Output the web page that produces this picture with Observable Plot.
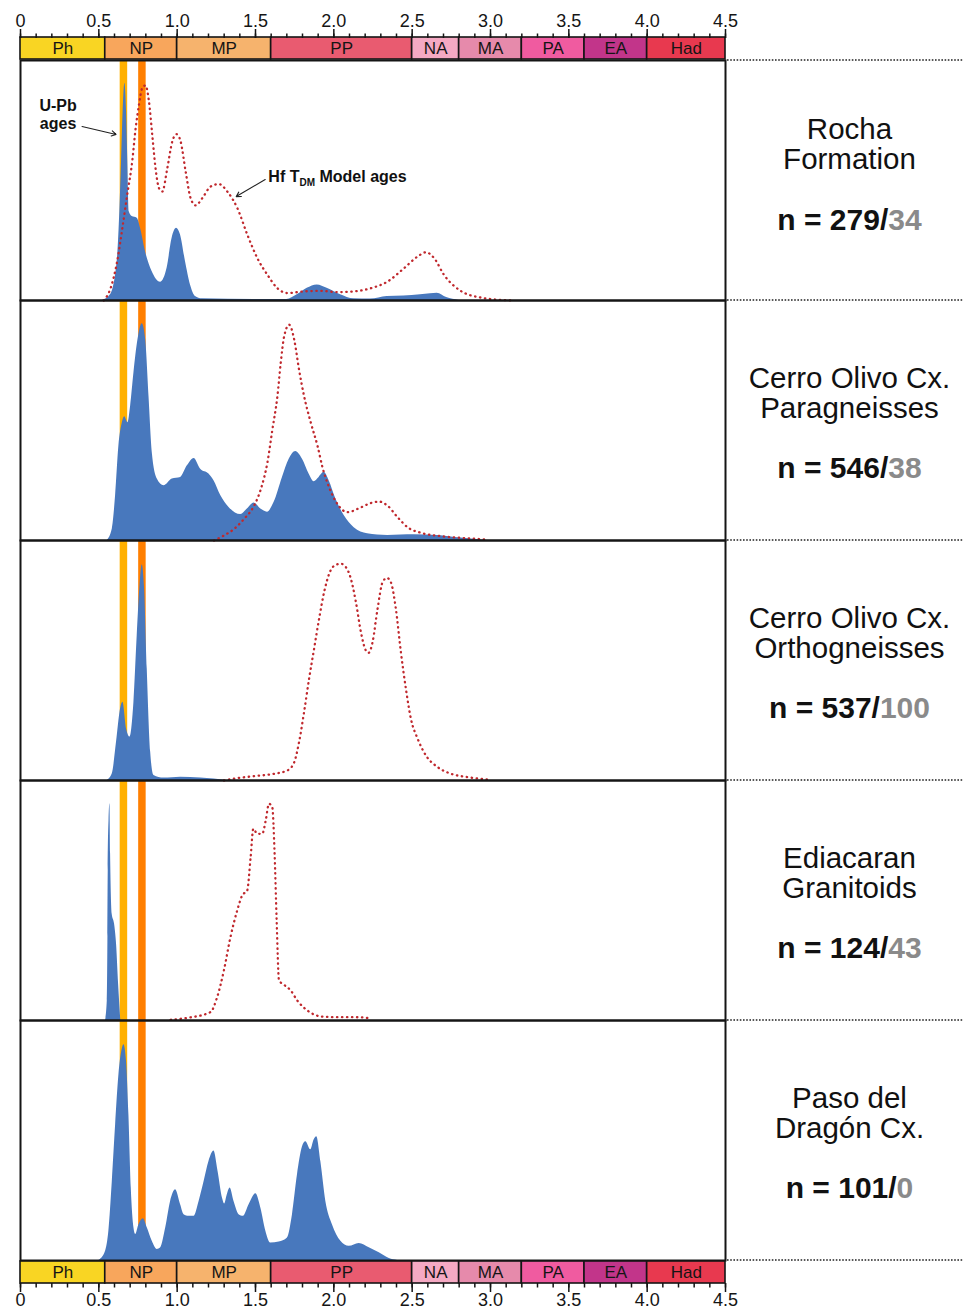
<!DOCTYPE html>
<html><head><meta charset="utf-8">
<script src="https://cdn.jsdelivr.net/npm/d3@7"></script>
<script src="https://cdn.jsdelivr.net/npm/@observablehq/plot@0.6"></script>
<style>
body{margin:0;background:#fff;}
#chart{width:963px;}
#chart svg{display:block;}
</style></head><body><div id="chart"></div>
<script>
// ---------------- DATA ----------------
const eraNames = ["Ph","NP","MP","PP","NA","MA","PA","EA","Had"];
const eraStart = [0, 0.541, 1.0, 1.6, 2.5, 2.8, 3.2, 3.6, 4.0];
const eraEnd   = [0.541, 1.0, 1.6, 2.5, 2.8, 3.2, 3.6, 4.0, 4.5];

const majorTicks = [0, 0.5, 1.0, 1.5, 2.0, 2.5, 3.0, 3.5, 4.0, 4.5];
const majorTickLabels = ["0","0.5","1.0","1.5","2.0","2.5","3.0","3.5","4.0","4.5"];
const minorTicks = [0,0.1,0.2,0.3,0.4,0.5,0.6,0.7,0.8,0.9,1.0,1.1,1.2,1.3,1.4,1.5,1.6,1.7,1.8,1.9,2.0,2.1,2.2,2.3,2.4,2.5,2.6,2.7,2.8,2.9,3.0,3.1,3.2,3.3,3.4,3.5,3.6,3.7,3.8,3.9,4.0,4.1,4.2,4.3,4.4,4.5];

// reference ages (Ga) shown as vertical bands
const markerAgeYellow = [0.657];
const markerAgeOrange = [0.775];

const samples = ["Rocha Formation", "Cerro Olivo Cx. Paragneisses", "Cerro Olivo Cx. Orthogneisses", "Ediacaran Granitoids", "Paso del Dragón Cx."];
const sampleLabelLines = ["Rocha\nFormation", "Cerro Olivo Cx.\nParagneisses", "Cerro Olivo Cx.\nOrthogneisses", "Ediacaran\nGranitoids", "Paso del\nDragón Cx."];
const nUPb = [279, 546, 537, 124, 101];
const nHf  = [34, 38, 100, 43, 0];

// [age (Ga), relative density]
const rochaUPb = [[0.521,0],[0.574,0.024],[0.617,0.163],[0.634,0.372],[0.645,0.579],[0.655,0.788],[0.666,0.905],[0.677,0.788],[0.685,0.579],[0.694,0.37],[0.713,0.35],[0.745,0.343],[0.766,0.301],[0.798,0.203],[0.840,0.121],[0.894,0.076],[0.936,0.135],[0.968,0.260],[0.996,0.301],[1.021,0.274],[1.053,0.163],[1.085,0.065],[1.117,0.017],[1.160,0.007],[1.49,0.004],[1.70,0.004],[1.766,0.024],[1.830,0.051],[1.894,0.065],[1.957,0.051],[2.043,0.024],[2.128,0.007],[2.234,0.006],[2.340,0.017],[2.447,0.019],[2.553,0.024],[2.617,0.028],[2.66,0.03],[2.72,0.012],[2.80,0]];
const rochaHf = [[0.532,0],[0.575,0.051],[0.617,0.163],[0.65,0.301],[0.681,0.440],[0.713,0.579],[0.735,0.718],[0.756,0.815],[0.777,0.885],[0.798,0.896],[0.820,0.829],[0.841,0.690],[0.862,0.551],[0.884,0.468],[0.905,0.454],[0.937,0.551],[0.969,0.663],[0.996,0.693],[1.022,0.663],[1.054,0.538],[1.086,0.426],[1.118,0.396],[1.160,0.426],[1.214,0.475],[1.267,0.485],[1.320,0.454],[1.384,0.385],[1.448,0.274],[1.512,0.176],[1.576,0.107],[1.640,0.051],[1.704,0.031],[1.810,0.038],[1.917,0.040],[2.023,0.035],[2.130,0.038],[2.236,0.051],[2.343,0.079],[2.449,0.135],[2.534,0.183],[2.588,0.201],[2.641,0.176],[2.70,0.11],[2.81,0.04],[2.94,0.012],[3.13,0]];

const paraUPb = [[0.554,0],[0.586,0.048],[0.607,0.187],[0.628,0.394],[0.650,0.491],[0.665,0.516],[0.686,0.491],[0.703,0.560],[0.724,0.698],[0.750,0.837],[0.777,0.903],[0.799,0.837],[0.820,0.602],[0.841,0.367],[0.873,0.256],[0.916,0.228],[0.969,0.256],[1.022,0.263],[1.065,0.311],[1.108,0.342],[1.150,0.297],[1.203,0.277],[1.235,0.249],[1.278,0.187],[1.331,0.138],[1.406,0.108],[1.448,0.131],[1.491,0.156],[1.534,0.131],[1.576,0.118],[1.619,0.159],[1.672,0.263],[1.715,0.339],[1.757,0.371],[1.800,0.339],[1.842,0.277],[1.874,0.245],[1.906,0.263],[1.938,0.284],[1.970,0.249],[2.013,0.173],[2.066,0.104],[2.130,0.053],[2.215,0.028],[2.343,0.021],[2.513,0.024],[2.662,0.021],[2.81,0.01],[2.98,0]];
const paraHf = [[1.235,0],[1.299,0.021],[1.363,0.048],[1.427,0.090],[1.491,0.145],[1.534,0.214],[1.576,0.325],[1.608,0.463],[1.640,0.602],[1.661,0.740],[1.683,0.851],[1.715,0.899],[1.747,0.837],[1.778,0.712],[1.810,0.602],[1.853,0.491],[1.896,0.394],[1.928,0.304],[1.970,0.221],[2.023,0.152],[2.087,0.118],[2.173,0.138],[2.236,0.156],[2.290,0.162],[2.343,0.145],[2.407,0.097],[2.471,0.055],[2.556,0.032],[2.684,0.018],[2.833,0.010],[2.982,0.004]];

const orthoUPb = [[0.554,0],[0.586,0.028],[0.613,0.160],[0.639,0.299],[0.654,0.326],[0.677,0.215],[0.699,0.181],[0.724,0.326],[0.745,0.604],[0.763,0.8125],[0.777,0.899],[0.792,0.799],[0.809,0.465],[0.831,0.118],[0.852,0.021],[0.916,0.010],[1.022,0.014],[1.150,0.010],[1.32,0]];
const orthoHf = [[1.299,0],[1.384,0.010],[1.491,0.018],[1.619,0.028],[1.704,0.042],[1.747,0.076],[1.778,0.160],[1.810,0.285],[1.842,0.424],[1.874,0.549],[1.906,0.674],[1.938,0.785],[1.970,0.861],[2.013,0.899],[2.045,0.903],[2.077,0.889],[2.109,0.840],[2.141,0.743],[2.173,0.618],[2.204,0.542],[2.222,0.532],[2.247,0.576],[2.279,0.715],[2.311,0.826],[2.339,0.844],[2.364,0.826],[2.396,0.715],[2.428,0.535],[2.460,0.382],[2.492,0.257],[2.535,0.174],[2.588,0.104],[2.662,0.056],[2.748,0.028],[2.854,0.014],[2.982,0.004]];

const ediaUPb = [[0.543,0],[0.554,0.083],[0.558,0.35],[0.560,0.625],[0.565,0.833],[0.571,0.903],[0.575,0.694],[0.585,0.444],[0.600,0.403],[0.613,0.319],[0.626,0.153],[0.640,0]];
const ediaHf = [[0.958,0.003],[1.064,0.011],[1.213,0.035],[1.255,0.097],[1.298,0.208],[1.340,0.347],[1.383,0.458],[1.415,0.521],[1.447,0.542],[1.469,0.681],[1.486,0.799],[1.511,0.778],[1.543,0.778],[1.565,0.833],[1.586,0.903],[1.607,0.889],[1.622,0.694],[1.635,0.417],[1.650,0.167],[1.682,0.149],[1.725,0.125],[1.767,0.083],[1.831,0.042],[1.916,0.017],[2.0,0.014],[2.1,0.014],[2.2,0.012],[2.24,0.005]];

const pasoUPb = [[0.500,0],[0.543,0.039],[0.564,0.122],[0.586,0.329],[0.607,0.564],[0.628,0.772],[0.650,0.882],[0.660,0.899],[0.677,0.827],[0.692,0.606],[0.707,0.302],[0.724,0.136],[0.735,0.108],[0.756,0.149],[0.784,0.174],[0.809,0.136],[0.841,0.080],[0.873,0.046],[0.895,0.053],[0.927,0.136],[0.958,0.246],[0.990,0.295],[1.022,0.232],[1.044,0.191],[1.076,0.184],[1.108,0.184],[1.140,0.246],[1.172,0.329],[1.203,0.412],[1.235,0.456],[1.261,0.371],[1.289,0.260],[1.303,0.235],[1.320,0.274],[1.338,0.302],[1.363,0.246],[1.395,0.191],[1.423,0.184],[1.459,0.232],[1.502,0.278],[1.534,0.219],[1.566,0.122],[1.597,0.073],[1.651,0.077],[1.704,0.094],[1.736,0.191],[1.768,0.357],[1.800,0.474],[1.821,0.495],[1.853,0.461],[1.874,0.502],[1.891,0.516],[1.917,0.412],[1.949,0.246],[1.991,0.149],[2.045,0.080],[2.098,0.059],[2.162,0.071],[2.226,0.053],[2.290,0.032],[2.354,0.008],[2.407,0]];
const pasoHf = [];

const upbCurves = [rochaUPb, paraUPb, orthoUPb, ediaUPb, pasoUPb];
const hfCurves  = [rochaHf, paraHf, orthoHf, ediaHf, pasoHf];

// annotations (age, relative density) in the Rocha panel
const noteUPb = {text: "U-Pb\nages", age: 0.24, density: 0.775};
const noteHf  = {text: "Hf T{DM} Model ages", age: 1.582, density: 0.517};
const arrowUPb = {x1: 0.393, y1: 0.725, x2: 0.610, y2: 0.692};
const arrowHf  = {x1: 1.562, y1: 0.504, x2: 1.377, y2: 0.433};

// ---------------- STYLE ----------------
const FONT = "'Liberation Sans', Arial, Helvetica, sans-serif";
const W = 963, ML = 20, MR = 238;
const eraColors = ["#f9d523","#f8a65c","#f6b36d","#e95b70","#f5a9c3","#e68aab","#f05ba0","#c2358a","#e8394f"];
const BLUE = "#4878bd", RED = "#c0282d";

// ---------------- TABLES ----------------
const eras = eraNames.map((name, i) => ({name, start: eraStart[i], end: eraEnd[i]}));
const upb = upbCurves.flatMap((c, i) => c.map(([age, density]) => ({sample: samples[i], age, density})));
const hf  = hfCurves.flatMap((c, i) => c.map(([age, density]) => ({sample: samples[i], age, density})));
const labels = samples.map((s, i) => ({sample: s, name: sampleLabelLines[i], count: `n = ${nUPb[i]}/${nHf[i]}`}));
const notes = [noteUPb, noteHf].map(d => ({...d, sample: samples[0]}));
const arrows = [arrowUPb, arrowHf].map(d => ({...d, sample: samples[0]}));
const tickLabel = d => majorTickLabels[majorTicks.findIndex(t => Math.abs(t - d) < 1e-9)];

function timescale(top) {
  const anchor = top ? "top" : "bottom";
  return Plot.plot({
    width: W, height: top ? 59 : 50,
    marginLeft: ML, marginRight: MR,
    marginTop: top ? 37 : 0, marginBottom: top ? 0 : 28,
    x: {domain: [0, 4.5]},
    color: {domain: eraNames, range: eraColors},
    style: {fontFamily: FONT, fontSize: "18px", color: "#111", background: "transparent", overflow: "visible"},
    marks: [
      Plot.rect(eras, {x1: "start", x2: "end", fill: "name", stroke: "#151515", strokeWidth: 1.6}),
      Plot.text(eras, {x: d => (d.start + d.end) / 2, text: "name", fontSize: 17, fill: "#151515", frameAnchor: "middle"}),
      Plot.axisX({anchor, ticks: minorTicks, tickSize: 4.5, tickFormat: () => "", strokeWidth: 1.5, stroke: "#151515"}),
      Plot.axisX({anchor, ticks: majorTicks, tickSize: 9, tickPadding: top ? 2 : 1, tickFormat: tickLabel, strokeWidth: 1.5, stroke: "#151515", fill: "#151515", fontSize: 18})
    ]
  });
}

const mid = Plot.plot({
  width: W, height: 1202,
  marginLeft: ML, marginRight: MR, marginTop: 0, marginBottom: 0,
  x: {domain: [0, 4.5], axis: null},
  y: {domain: [0, 1], axis: null},
  fy: {domain: samples, axis: null, padding: 0},
  style: {fontFamily: FONT, color: "#111", background: "transparent", overflow: "visible"},
  marks: [
    Plot.ruleX(markerAgeYellow, {stroke: "#ffb000", strokeWidth: 7.5}),
    Plot.ruleX(markerAgeOrange, {stroke: "#ff7f00", strokeWidth: 7.5}),
    Plot.areaY(upb, {x: "age", y: "density", fy: "sample", fill: BLUE, curve: "monotone-x"}),
    Plot.line(hf, {x: "age", y: "density", fy: "sample", z: "sample", stroke: RED, strokeWidth: 2.3, strokeDasharray: "0.4,4.6", strokeLinecap: "round", curve: "monotone-x"}),
    Plot.arrow(arrows, {x1: "x1", y1: "y1", x2: "x2", y2: "y2", fy: "sample", stroke: "#222", strokeWidth: 1.1, headLength: 7}),
    Plot.text(notes.slice(0, 1), {x: "age", y: "density", fy: "sample", text: "text", fontSize: 16, fontWeight: "bold", fill: "#111", lineHeight: 1.13, textAnchor: "middle"}),
    Plot.text(notes.slice(1), {x: "age", y: "density", fy: "sample", text: "text", fontSize: 16, fontWeight: "bold", fill: "#111", textAnchor: "start"}),
    Plot.frame({stroke: "#151515", strokeWidth: 2}),
    Plot.text(labels.slice(0, 1), {fy: "sample", text: "name", frameAnchor: "right", dx: 124, dy: -36, fontSize: 29.5, lineHeight: 1.03, textAnchor: "middle", fill: "#111"}),
    Plot.text(labels.slice(1), {fy: "sample", text: "name", frameAnchor: "right", dx: 124, dy: -27, fontSize: 29.5, lineHeight: 1.03, textAnchor: "middle", fill: "#111"}),
    Plot.text(labels.slice(0, 1), {fy: "sample", text: "count", frameAnchor: "right", dx: 124, dy: 40, fontSize: 30, fontWeight: "bold", textAnchor: "middle", fill: "#111"}),
    Plot.text(labels.slice(1), {fy: "sample", text: "count", frameAnchor: "right", dx: 124, dy: 48, fontSize: 30, fontWeight: "bold", textAnchor: "middle", fill: "#111"})
  ]
});

// post-process: two-tone counts, subscript, dotted separators
const svgMid = d3.select(mid.tagName.toLowerCase() === "svg" ? mid : mid.querySelector("svg"));
svgMid.selectAll("text").each(function () {
  const t = this.textContent;
  let m = t.match(/^(n = \d+\/)(\d+)$/);
  if (m && this.children.length === 0) {
    this.textContent = "";
    d3.select(this).append("tspan").text(m[1]);
    d3.select(this).append("tspan").attr("fill", "#8a8a8a").text(m[2]);
    return;
  }
  m = t.match(/^(.*)\{(.+)\}(.*)$/);
  if (m && this.children.length === 0) {
    this.textContent = "";
    d3.select(this).append("tspan").text(m[1]);
    d3.select(this).append("tspan").attr("font-size", 10).attr("dy", 4).text(m[2]);
    d3.select(this).append("tspan").attr("dy", -4).text(m[3]);
  }
});
const fyS = mid.scale("fy"), xS = mid.scale("x");
const bw = fyS.bandwidth;
const ys = samples.map(s => fyS.apply(s));
ys.push(ys[ys.length - 1] + bw);
const xStart = xS.apply(4.5) + 2;
ys.forEach(y => {
  const yy = Math.min(Math.max(y, 1), 1201);
  svgMid.append("line").attr("x1", xStart).attr("x2", W).attr("y1", yy).attr("y2", yy)
    .attr("stroke", "#222").attr("stroke-width", 1.6).attr("stroke-dasharray", "1.6,1.6");
});

const chart = document.getElementById("chart");
chart.appendChild(timescale(true));
chart.appendChild(mid);
chart.appendChild(timescale(false));
</script></body></html>
